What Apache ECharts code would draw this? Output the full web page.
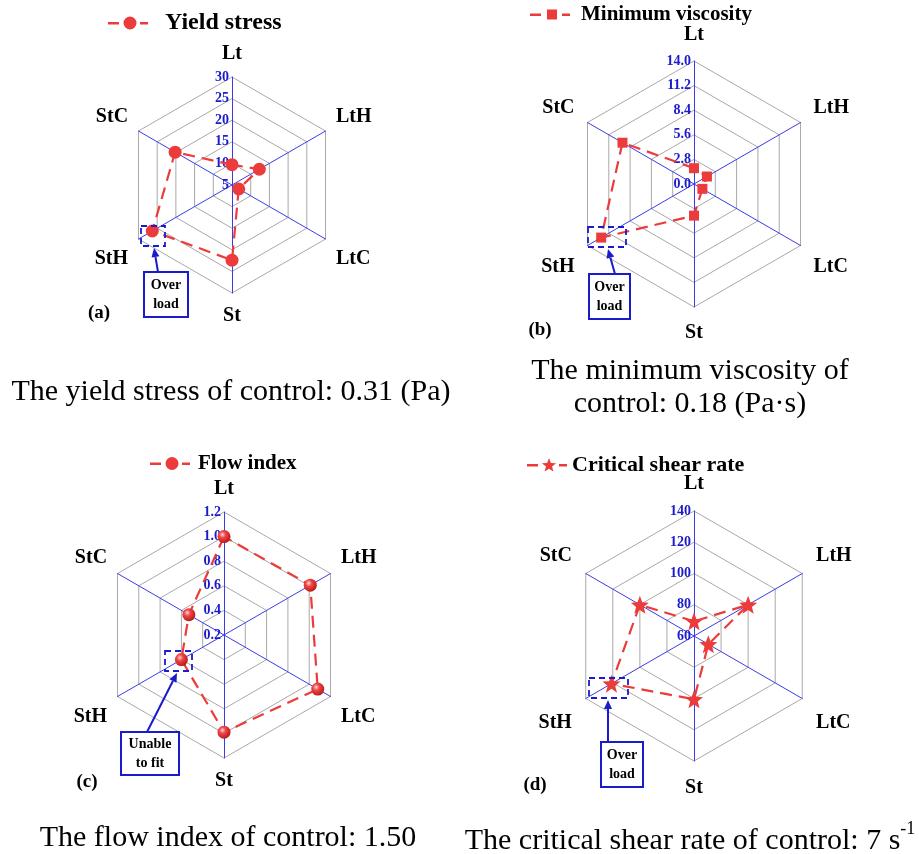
<!DOCTYPE html>
<html><head><meta charset="utf-8">
<script src="https://cdn.jsdelivr.net/npm/echarts@6/dist/echarts.min.js"></script>
<style>html,body{margin:0;padding:0;background:#fff}#c{width:919px;height:854px}</style>
</head><body><div id="c"></div>
<script>
// ---------- data ----------
const axesOrder = ['Lt', 'StC', 'StH', 'St', 'LtC', 'LtH']; // counter-clockwise from top
const seriesNames = ['Yield stress', 'Minimum viscosity', 'Flow index', 'Critical shear rate'];
const yieldStress = [9.7, 20.2, 26.3, 22.4, 6.8, 12.3];
const minViscosity = [1.8, 9.4, 12.2, 3.6, 1.1, 1.7];
const flowIndex = [1.0, 0.53, 0.60, 0.99, 1.08, 1.01];
const criticalShear = [69.4, 100, 121, 100.5, 70.6, 100];
const axisMin = [5, 0, 0.2, 60];
const axisMax = [30, 14, 1.2, 140];
const axisSplits = [5, 5, 5, 4];
const tickDecimals = [0, 1, 1, 0];
const panelTags = ['(a)', '(b)', '(c)', '(d)'];
const noteTexts = ['Over\nload', 'Over\nload', 'Unable\nto fit', 'Over\nload'];
const caption1 = 'The yield stress of control: 0.31 (Pa)';
const caption2 = 'The minimum viscosity of\ncontrol: 0.18 (Pa\u00b7s)';
const caption3 = 'The flow index of control: 1.50';
const caption4Main = 'The critical shear rate of control: 7 s';
const caption4Sup = '-1';

// ---------- style / layout ----------
const SERIF = '"Liberation Serif", "Times New Roman", serif';
const RED = '#ec3b3b';
const BLUE = '#1b1bcc';
const AXISBLUE = '#3c3ce6';
const GRID = '#a9a9a9';
const allValues = [yieldStress, minViscosity, flowIndex, criticalShear];

const layout = [
  { center: [232, 185], radius: 108, gap: 12, spTop: 17, spBot: 28, legend: { left: 108, top: 11, extra: 12, font: 24 } },
  { center: [694, 184], radius: 123, gap: 15, spTop: 15, spBot: 28, legend: { left: 530, top: 4, extra: 6, font: 21 } },
  { center: [224, 635], radius: 123, gap: 12, spTop: 20, spBot: 29, legend: { left: 150, top: 453, extra: 3, font: 21 } },
  { center: [694, 636], radius: 125, gap: 16, spTop: 20, spBot: 32, legend: { left: 527, top: 454, extra: 0, font: 22 } }
];

function starPath(cx, cy, R, r) {
  let d = '';
  for (let k = 0; k < 10; k++) {
    const ang = -Math.PI / 2 + k * Math.PI / 5;
    const rad = k % 2 === 0 ? R : r;
    d += (k === 0 ? 'M' : 'L') + (cx + rad * Math.cos(ang)).toFixed(2) + ',' + (cy + rad * Math.sin(ang)).toFixed(2) + ' ';
  }
  return d + 'Z';
}
function tiny(x, y) { return 'M' + x + ',' + y + ' h0.01 v0.01 h-0.01 Z '; }
function legendIcon(marker, extra) {
  const W = 40 + extra;
  let d = tiny(0, 0) + tiny(W - 0.01, 13.99);
  d += 'M0,6 h11 v2.4 h-11 Z ';
  d += 'M32,6 h8 v2.4 h-8 Z ';
  if (marker === 'circle') d += 'M28.5,7 A6.5,6.5 0 1,1 15.5,7 A6.5,6.5 0 1,1 28.5,7 Z';
  else if (marker === 'square') d += 'M17,2 h10 v10 h-10 Z';
  else d += starPath(22, 7.5, 7.5, 3.2);
  return 'path://' + d;
}
const legendMarkers = ['circle', 'square', 'circle', 'star'];
const seriesSymbols = ['circle', 'rect', 'circle', 'path://' + starPath(50, 50, 50, 21)];
const symbolSizes = [13, 10, 13, 18];
const sphere = {
  type: 'radial', x: 0.38, y: 0.35, r: 0.7,
  colorStops: [{ offset: 0, color: '#ffd6d6' }, { offset: 0.35, color: '#f04646' }, { offset: 1, color: '#b51515' }]
};
const symbolFills = [RED, RED, sphere, RED];

function nameFmt(name) {
  if (name === 'LtH' || name === 'StC') return '{n|' + name + '}\n{t| }';
  if (name === 'LtC' || name === 'StH') return '{b| }\n{n|' + name + '}';
  return '{n|' + name + '}';
}

function radarCfg(i) {
  const L = layout[i];
  return {
    center: L.center, radius: L.radius, startAngle: 90, shape: 'polygon',
    splitNumber: axisSplits[i],
    axisNameGap: L.gap,
    axisName: {
      formatter: nameFmt,
      rich: {
        n: { fontFamily: SERIF, fontWeight: 'bold', fontSize: 20, color: '#000', lineHeight: 22 },
        t: { fontSize: 1, lineHeight: L.spTop },
        b: { fontSize: 1, lineHeight: L.spBot }
      }
    },
    indicator: axesOrder.map((nm, k) => ({ name: nm, min: axisMin[i], max: axisMax[i], axisLabel: { show: k === 0 } })),
    axisLine: { lineStyle: { color: AXISBLUE, width: 1 } },
    splitLine: { lineStyle: { color: GRID, width: 1 } },
    splitArea: { show: false },
    axisTick: { show: false },
    axisLabel: {
      show: false, color: BLUE, fontFamily: SERIF, fontWeight: 'bold', fontSize: 14, margin: 3,
      formatter: v => (+v).toFixed(tickDecimals[i])
    }
  };
}

// ---------- annotation helpers ----------
function dashedRect(x1, y1, x2, y2) {
  return { type: 'rect', z: 100, shape: { x: x1, y: y1, width: x2 - x1, height: y2 - y1 },
    style: { fill: 'none', stroke: BLUE, lineWidth: 1.8, lineDash: [6, 4] } };
}
function arrow(x1, y1, x2, y2) {
  const a = Math.atan2(y2 - y1, x2 - x1), Lh = 9, Wh = 4;
  const bx = x2 - Lh * Math.cos(a), by = y2 - Lh * Math.sin(a);
  const px = -Math.sin(a) * Wh, py = Math.cos(a) * Wh;
  return [
    { type: 'line', z: 100, shape: { x1: x1, y1: y1, x2: bx, y2: by }, style: { stroke: BLUE, lineWidth: 2 } },
    { type: 'polygon', z: 100, shape: { points: [[x2, y2], [bx + px, by + py], [bx - px, by - py]] }, style: { fill: BLUE } }
  ];
}
function noteBox(x, y, w, h, text) {
  return [
    { type: 'rect', z: 100, shape: { x: x, y: y, width: w, height: h }, style: { fill: '#fff', stroke: BLUE, lineWidth: 2 } },
    { type: 'text', z: 101, x: x + w / 2, y: y + h / 2,
      style: { text: text, align: 'center', verticalAlign: 'middle', textAlign: 'center', textVerticalAlign: 'middle',
        font: 'bold 14px ' + SERIF, fill: '#000', lineHeight: 19 } }
  ];
}
function label(x, y, text, font, extra) {
  return { type: 'text', z: 100, x: x, y: y,
    style: Object.assign({ text: text, align: 'center', verticalAlign: 'middle', textAlign: 'center', textVerticalAlign: 'middle',
      font: font, fill: '#000' }, extra || {}) };
}

const notes = [
  { dash: [141, 226, 165, 246], arrow: [158, 272, 154, 248], box: [144, 272, 44, 45] },
  { dash: [588, 227, 626, 247], arrow: [615, 274, 608, 249], box: [589, 274, 41, 45] },
  { dash: [165, 651, 192, 671], arrow: [147, 732, 177, 673], box: [121, 732, 58, 43] },
  { dash: [589, 678, 628, 698], arrow: [608, 742, 608, 700], box: [601, 742, 42, 45] }
];
const tagPos = [[99, 313], [540, 330], [87, 782], [535, 785]];

let graphics = [];
notes.forEach((n, i) => {
  graphics.push(dashedRect.apply(null, n.dash));
  graphics = graphics.concat(arrow.apply(null, n.arrow));
  graphics = graphics.concat(noteBox(n.box[0], n.box[1], n.box[2], n.box[3], noteTexts[i]));
  graphics.push(label(tagPos[i][0], tagPos[i][1], panelTags[i], 'bold 19px ' + SERIF));
});
graphics.push(label(231, 392, caption1, '30px ' + SERIF));
graphics.push(label(690, 388, caption2, '30px ' + SERIF, { lineHeight: 33 }));
graphics.push(label(228, 838, caption3, '30px ' + SERIF));
graphics.push({
  type: 'text', z: 100, x: 690, y: 838,
  style: {
    text: '{m|' + caption4Main + '}{u|' + caption4Sup + '}',
    align: 'center', verticalAlign: 'middle', textAlign: 'center', textVerticalAlign: 'middle',
    rich: {
      m: { fontFamily: SERIF, fontSize: 30, color: '#000', lineHeight: 36, verticalAlign: 'bottom' },
      u: { fontFamily: SERIF, fontSize: 18, color: '#000', lineHeight: 22, verticalAlign: 'top' }
    }
  }
});

const chart = echarts.init(document.getElementById('c'), null, { renderer: 'canvas' });
chart.setOption({
  backgroundColor: '#fff',
  animation: false,
  textStyle: { fontFamily: SERIF },
  legend: [0, 1, 2, 3].map(i => ({
    left: layout[i].legend.left, top: layout[i].legend.top, padding: 0,
    itemWidth: 40 + layout[i].legend.extra, itemHeight: 14,
    selectedMode: false,
    textStyle: { fontFamily: SERIF, fontWeight: 'bold', fontSize: layout[i].legend.font, color: '#000' },
    data: [{ name: seriesNames[i], icon: legendIcon(legendMarkers[i], layout[i].legend.extra),
      itemStyle: { color: RED, borderWidth: 0 } }]
  })),
  radar: [0, 1, 2, 3].map(radarCfg),
  series: [0, 1, 2, 3].map(i => ({
    type: 'radar', radarIndex: i, name: seriesNames[i],
    symbol: seriesSymbols[i], symbolSize: symbolSizes[i], symbolKeepAspect: true,
    lineStyle: { color: RED, width: 2.2, type: [12, 7] },
    itemStyle: { color: symbolFills[i], borderWidth: 0 },
    data: [{ name: seriesNames[i], value: allValues[i] }],
    z: 5
  })),
  graphic: { elements: graphics }
});
</script>
</body></html>
